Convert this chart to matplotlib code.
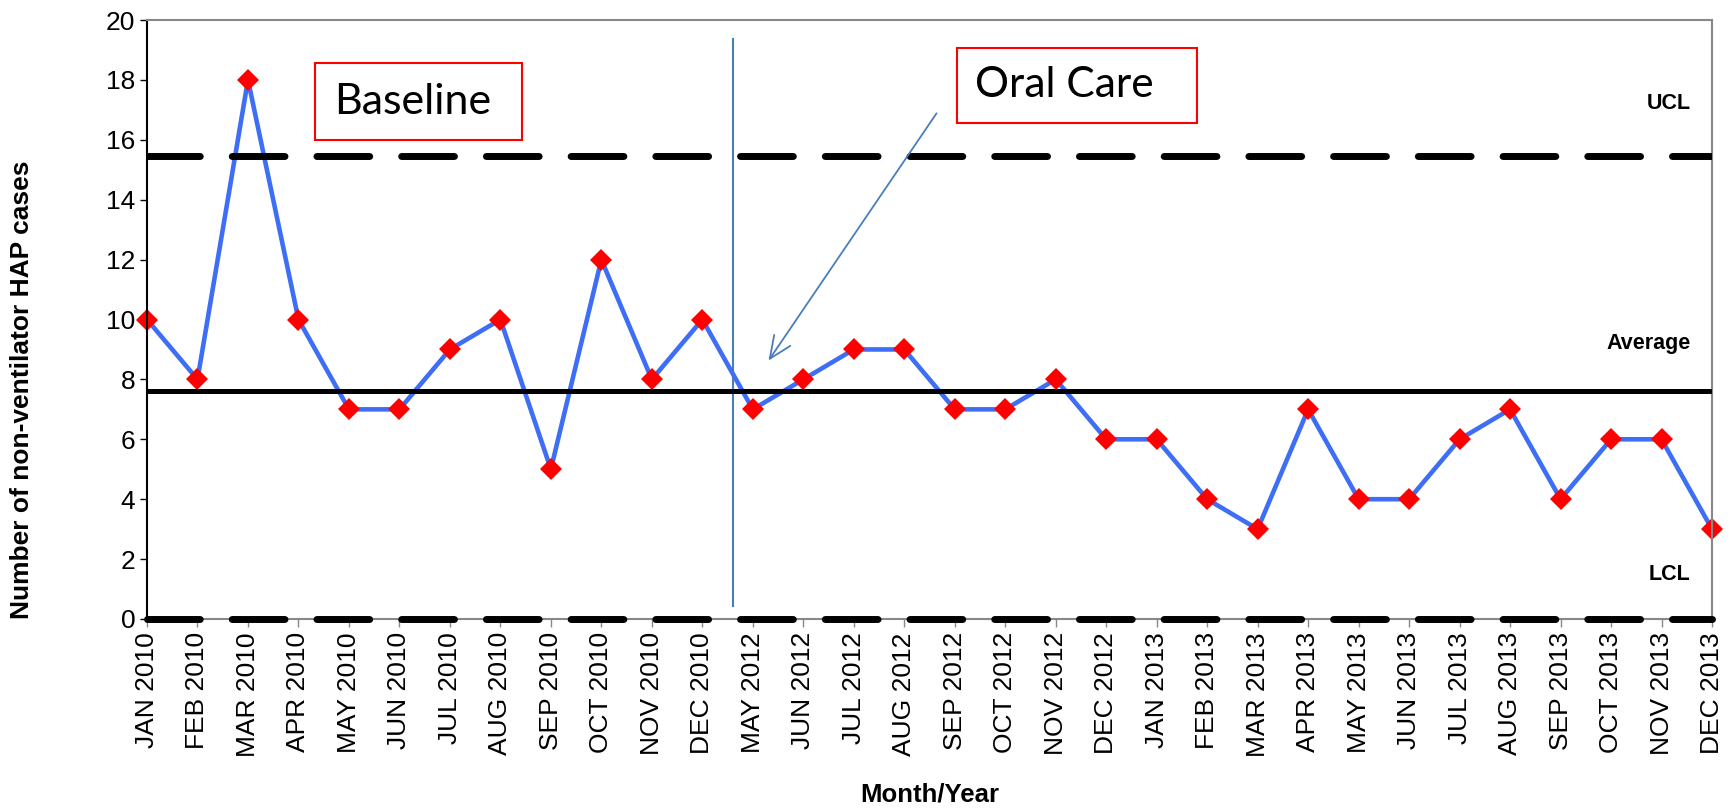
import matplotlib
matplotlib.use('Agg')
import matplotlib.pyplot as plt
from matplotlib.patches import Rectangle

plt.rcParams['font.family'] = ['Liberation Sans', 'DejaVu Sans']

# data
months = ['JAN 2010', 'FEB 2010', 'MAR 2010', 'APR 2010', 'MAY 2010', 'JUN 2010',
          'JUL 2010', 'AUG 2010', 'SEP 2010', 'OCT 2010', 'NOV 2010', 'DEC 2010',
          'MAY 2012', 'JUN 2012', 'JUL 2012', 'AUG 2012', 'SEP 2012', 'OCT 2012',
          'NOV 2012', 'DEC 2012', 'JAN 2013', 'FEB 2013', 'MAR 2013', 'APR 2013',
          'MAY 2013', 'JUN 2013', 'JUL 2013', 'AUG 2013', 'SEP 2013', 'OCT 2013',
          'NOV 2013', 'DEC 2013']
cases = [10, 8, 18, 10, 7, 7, 9, 10, 5, 12, 8, 10,
         7, 8, 9, 9, 7, 7, 8, 6, 6, 4, 3, 7,
         4, 4, 6, 7, 4, 6, 6, 3]
ucl = 15.45
average = 7.6
lcl = 0

x = list(range(len(months)))

fig = plt.figure(figsize=(17.34, 8.11), dpi=100)
ax = fig.add_axes([147/1734, 1 - 619/811, (1712-147)/1734, (619-20)/811])

# series
ax.plot(x, cases, color='#3D6EF5', lw=3.3, zorder=2,
        marker='D', ms=11.5, mfc='#FF0000', mec='#FF0000', mew=0, clip_on=False)

# control limits
dash = (0, (7.6, 4.6))
ax.axhline(ucl, color='black', lw=5, linestyle=dash, dash_capstyle='round', zorder=3)
ax.axhline(lcl, color='black', lw=5, linestyle=dash, dash_capstyle='round', zorder=3,
           clip_on=False)
ax.axhline(average, color='black', lw=3.6, zorder=3)

ax.text(30.58, 17.2, 'UCL', ha='right', va='center', fontsize=15.5, fontweight='bold')
ax.text(30.58, 9.2, 'Average', ha='right', va='center', fontsize=15.5, fontweight='bold')
ax.text(30.58, 1.47, 'LCL', ha='right', va='center', fontsize=15.5, fontweight='bold')

# intervention line + arrow
ax.plot([11.61, 11.61], [0.43, 19.37], color='#4A7EBB', lw=1.5, zorder=1)
ax.annotate('', xy=(12.28, 8.55), xytext=(15.67, 16.96),
            arrowprops=dict(arrowstyle='->,head_length=1.6,head_width=0.7',
                            color='#4A7EBB', lw=1.3))

# boxes
ax.add_patch(Rectangle((3.33, 15.99), 4.10, 2.57, fill=False, ec='red', lw=1.5, zorder=4))
ax.text(3.70, 17.27, 'Baseline', ha='left', va='center', fontsize=31, family='Lato')
ax.add_patch(Rectangle((16.05, 16.56), 4.75, 2.51, fill=False, ec='red', lw=1.5, zorder=4))
ax.text(16.41, 17.82, 'Oral Care', ha='left', va='center', fontsize=30.5, family='Lato')

ax.set_xlim(0, 31)
ax.set_ylim(0, 20)
ax.set_yticks(range(0, 21, 2))
ax.set_xticks(x)
ax.set_xticklabels(months, rotation=90, fontsize=19)
ax.tick_params(axis='y', labelsize=19, length=5, width=1, direction='out')
ax.tick_params(axis='x', length=6, width=1, color='#888888', direction='out')

ax.spines['left'].set_color('black')
ax.spines['left'].set_linewidth(1.5)
for s in ['top', 'right', 'bottom']:
    ax.spines[s].set_color('#888888')
    ax.spines[s].set_linewidth(1.5)

fig.text(22/1734, 1 - 390/811, 'Number of non-ventilator HAP cases', rotation=90,
         ha='center', va='center', fontsize=19, fontweight='bold')
fig.text(930/1734, 1 - 794/811, 'Month/Year', ha='center', va='center',
         fontsize=18.5, fontweight='bold')

fig.savefig('out.png', dpi=100)
